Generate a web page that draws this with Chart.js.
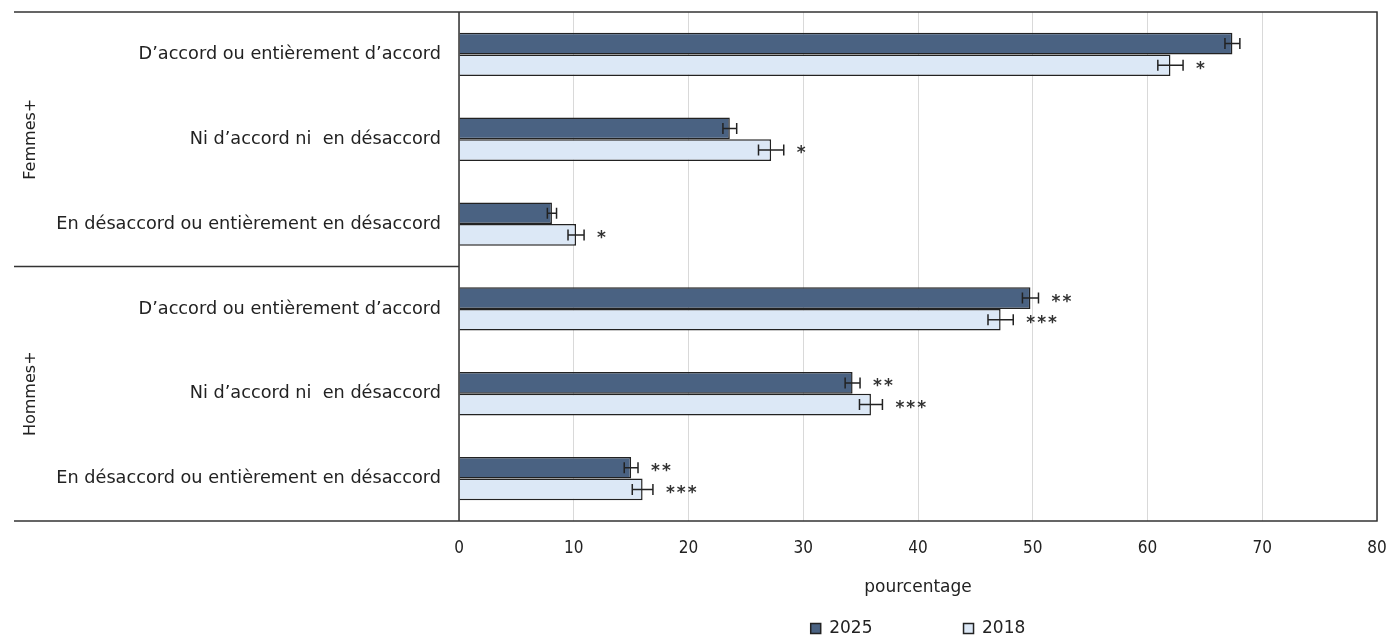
<!DOCTYPE html>
<html>
<head>
<meta charset="utf-8">
<script src="https://cdn.jsdelivr.net/npm/chart.js@4.4.1/dist/chart.umd.min.js"></script>
<style>
html, body { margin: 0; padding: 0; background: #fff; }
#wrap { width: 1390px; height: 639px; }
</style>
</head>
<body>
<div id="wrap"><canvas id="chart"></canvas></div>
<script>
var groups = ["Femmes+", "Hommes+"];
var categories = [
    "D’accord ou entièrement d’accord",
    "Ni d’accord ni  en désaccord",
    "En désaccord ou entièrement en désaccord",
    "D’accord ou entièrement d’accord",
    "Ni d’accord ni  en désaccord",
    "En désaccord ou entièrement en désaccord"
];
var years = ["2025", "2018"];
var values2025 = [67.4, 23.6, 8.1, 49.8, 34.3, 15.0];
var errors2025 = [0.65, 0.6, 0.4, 0.7, 0.65, 0.6];
var marks2025 = ["", "", "", "**", "**", "**"];
var values2018 = [62.0, 27.2, 10.2, 47.2, 35.9, 16.0];
var errors2018 = [1.1, 1.1, 0.7, 1.1, 1.0, 0.9];
var marks2018 = ["*", "*", "*", "***", "***", "***"];

var textFont = '"DejaVu Sans", Verdana, sans-serif';
var textColor = "#222";

// error bars + significance stars
var errorBarPlugin = {
    id: "errorBars",
    afterDatasetsDraw: function(chart) {
        var ctx = chart.ctx, x = chart.scales.x;
        ctx.save();
        ctx.strokeStyle = "#222";
        ctx.lineWidth = 1.5;
        ctx.fillStyle = "#333";
        ctx.font = "bold 17px " + textFont;
        ctx.letterSpacing = "2px";
        ctx.textAlign = "left";
        ctx.textBaseline = "middle";
        chart.data.datasets.forEach(function(ds, di) {
            var meta = chart.getDatasetMeta(di);
            meta.data.forEach(function(bar, i) {
                var v = ds.data[i], e = ds.errors[i];
                var x0 = x.getPixelForValue(v - e), x1 = x.getPixelForValue(v + e), yy = bar.y;
                ctx.beginPath();
                ctx.moveTo(x0, yy); ctx.lineTo(x1, yy);
                ctx.moveTo(x0, yy - 5.5); ctx.lineTo(x0, yy + 5.5);
                ctx.moveTo(x1, yy - 5.5); ctx.lineTo(x1, yy + 5.5);
                ctx.stroke();
                if (ds.marks[i]) ctx.fillText(ds.marks[i], x1 + 13, yy + 4);
            });
        });
        ctx.restore();
    }
};

// outer frame, group separator and rotated group labels
var framePlugin = {
    id: "frame",
    afterDraw: function(chart) {
        var ctx = chart.ctx, a = chart.chartArea, y = chart.scales.y;
        var left = y.left;
        var sep = (y.getPixelForValue(2) + y.getPixelForValue(3)) / 2;
        ctx.save();
        ctx.strokeStyle = "#333";
        ctx.lineWidth = 1.5;
        ctx.beginPath();
        ctx.moveTo(left, a.top); ctx.lineTo(a.right, a.top);
        ctx.lineTo(a.right, a.bottom); ctx.lineTo(left, a.bottom);
        ctx.moveTo(a.left, a.top); ctx.lineTo(a.left, a.bottom);
        ctx.moveTo(left, sep); ctx.lineTo(a.left, sep);
        ctx.stroke();
        ctx.fillStyle = textColor;
        ctx.font = "16px " + textFont;
        ctx.textAlign = "center";
        ctx.textBaseline = "middle";
        groups.forEach(function(g, i) {
            var c = (y.getPixelForValue(i * 3) + y.getPixelForValue(i * 3 + 2)) / 2;
            ctx.save();
            ctx.translate(left + 17, c);
            ctx.rotate(-Math.PI / 2);
            ctx.fillText(g, 0, 0);
            ctx.restore();
        });
        ctx.restore();
    }
};

var config = {
    type: "bar",
    data: {
        labels: categories,
        datasets: [
            { label: years[0], data: values2025, errors: errors2025, marks: marks2025,
              backgroundColor: "#4a6282", borderColor: "#222", borderWidth: 1.5 },
            { label: years[1], data: values2018, errors: errors2018, marks: marks2018,
              backgroundColor: "#dce8f6", borderColor: "#222", borderWidth: 1.5 }
        ]
    },
    options: {
        indexAxis: "y",
        responsive: true,
        maintainAspectRatio: false,
        animation: false,
        datasets: { bar: { barPercentage: 1, categoryPercentage: 0.51 } },
        layout: { padding: { left: 14, right: 13, top: 12, bottom: -8 } },
        scales: {
            x: {
                min: 0, max: 80,
                ticks: { stepSize: 10, padding: 0, color: textColor,
                         font: { family: '"Liberation Sans Narrow", "DejaVu Sans Condensed", sans-serif', size: 17 } },
                grid: { color: "#d9d9d9", drawTicks: true, tickLength: 17, tickColor: "rgba(0,0,0,0)" },
                border: { display: false },
                title: { display: true, text: "pourcentage", color: textColor,
                         font: { family: textFont, size: 17 }, padding: { top: 0, bottom: 12 } },
                afterFit: function(s) { s.height = 89; }
            },
            y: {
                ticks: { padding: 0, color: textColor, font: { family: textFont, size: 17.7 } },
                grid: { display: false, drawTicks: true, tickLength: 18 },
                border: { display: false },
                afterFit: function(s) { s.width = 445; }
            }
        },
        plugins: {
            legend: {
                position: "bottom",
                fullSize: false,
                labels: {
                    boxWidth: 10, boxHeight: 10, padding: 10, color: textColor,
                    font: { family: textFont, size: 17 },
                    generateLabels: function(chart) {
                        var items = Chart.defaults.plugins.legend.labels.generateLabels(chart);
                        items[0].text += "               ";
                        return items;
                    }
                }
            },
            tooltip: { enabled: false }
        }
    },
    plugins: [errorBarPlugin, framePlugin]
};

var chart = new Chart(document.getElementById("chart"), config);
</script>
</body>
</html>
